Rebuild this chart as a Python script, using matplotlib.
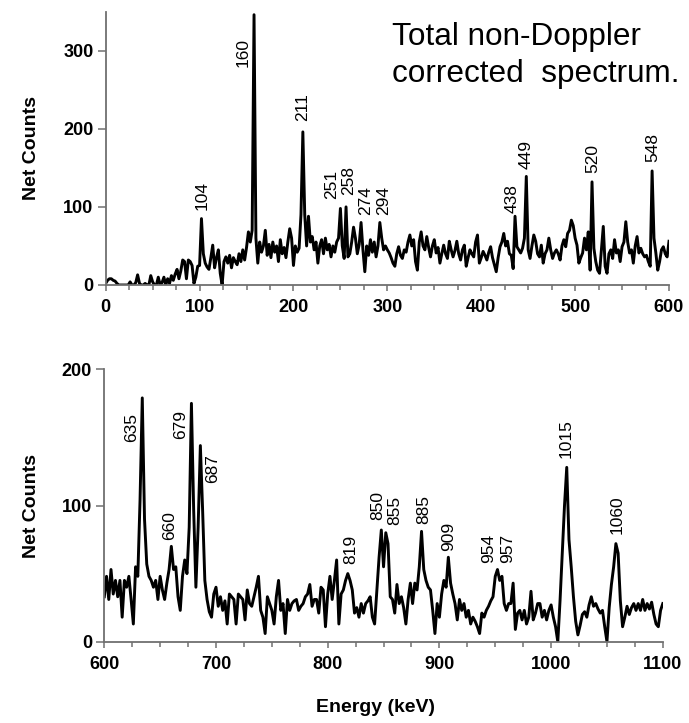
import numpy as np
import matplotlib
matplotlib.use("Agg")
import matplotlib.pyplot as plt
from matplotlib.ticker import MultipleLocator

# ---------------- data ----------------
top_energy = np.arange(0, 601, 2)          # keV
top_counts = [
    2, 6, 8, 8, 6,      5, 2, 0, 0, 0,      0, 0, 0, 4, 0,      0, 3, 13, 2, 0,
    0, 2, 0, 0, 12,     4, 0, 0, 10, 0,     3, 10, 0, 8, 2,     12, 6, 14, 20, 8,
    18, 32, 30, 8, 32,  30, 25, 2, 10, 24,  25, 85, 40, 28, 23,  20, 35, 51, 22, 35,
    45, 15, 0, 30, 36,  28, 38, 22, 35, 30,  26, 40, 30, 45, 32,  48, 68, 55, 70, 346,
    60, 28, 55, 42, 50,  70, 38, 52, 35, 55,  42, 50, 30, 58, 40,  48, 35, 55, 72, 60,
    25, 50, 42, 47, 90,  196, 90, 50, 88, 55,  62, 45, 55, 28, 50,  58, 40, 60, 45, 52,
    36, 50, 42, 55, 60,  98, 50, 34, 100, 36,  40, 55, 74, 60, 40,  52, 80, 45, 17, 50,
    38, 58, 42, 55, 36,  50, 80, 60, 45, 50,  45, 41, 35, 28, 24,  40, 49, 38, 34, 45,
    42, 55, 64, 50, 58,  30, 19, 55, 68, 50,  45, 62, 48, 36, 50,  58, 41, 48, 28, 40,
    51, 40, 34, 56, 45,  36, 44, 56, 40, 32,  45, 51, 24, 35, 45,  40, 36, 55, 64, 28,
    35, 43, 38, 32, 42,  49, 35, 26, 17, 35,  49, 55, 66, 50, 56,  40, 38, 21, 88, 49,
    45, 41, 47, 60, 139,  45, 34, 50, 64, 56,  40, 36, 51, 28, 40,  45, 60, 45, 34, 41,
    45, 40, 32, 50, 58,  49, 66, 70, 83, 76,  60, 51, 28, 35, 41,  60, 45, 68, 19, 132,
    47, 30, 19, 15, 45,  75, 24, 15, 40, 45,  34, 58, 41, 45, 30,  49, 55, 81, 55, 41,
    45, 28, 50, 62, 41,  47, 40, 36, 38, 30,  24, 146, 60, 41, 19,  30, 45, 49, 40, 36,
    56,
]

bot_energy = np.arange(600, 1101, 2)       # keV
bot_counts = [
    33, 48, 31, 53, 35,  45, 33, 45, 18, 45,  40, 48, 31, 13, 55,  48, 104, 179, 90, 57,
    48, 45, 40, 45, 31,  48, 38, 31, 43, 53,  70, 53, 55, 33, 23,  48, 60, 50, 84, 175,
    97, 40, 84, 144, 97,  45, 31, 22, 18, 35,  40, 26, 33, 23, 30,  13, 35, 33, 31, 13,
    35, 33, 31, 16, 38,  28, 26, 33, 40, 48,  23, 18, 6, 33, 28,  23, 13, 33, 45, 23,
    28, 6, 31, 23, 28,  30, 31, 23, 26, 28,  33, 35, 42, 26, 31,  31, 21, 40, 38, 11,
    35, 48, 31, 45, 60,  13, 35, 38, 45, 50,  45, 38, 21, 25, 18,  28, 21, 28, 30, 33,
    18, 13, 38, 62, 82,  55, 80, 72, 33, 31,  21, 42, 28, 33, 25,  13, 31, 43, 28, 43,
    38, 55, 81, 53, 45,  40, 38, 23, 6, 28,  18, 35, 45, 40, 62,  43, 35, 28, 16, 31,
    23, 28, 18, 23, 13,  18, 15, 11, 6, 21,  18, 23, 26, 30, 33,  48, 53, 45, 48, 28,
    23, 28, 28, 43, 9,  21, 23, 16, 23, 13,  18, 37, 16, 21, 28,  28, 18, 23, 16, 23,
    27, 18, 11, 0, 30,  65, 100, 128, 75, 55,  33, 15, 5, 12, 20,  22, 18, 27, 33, 26,
    28, 24, 21, 23, 11,  0, 25, 42, 55, 72,  65, 30, 11, 18, 26,  20, 25, 28, 23, 28,
    23, 31, 23, 28, 24,  29, 20, 13, 11, 23,  28,
]

# peak labels: text, energy of the labelled peak (keV)
top_labels = ["104", "160", "211", "251", "258", "274", "294", "438", "449", "520", "548"]
top_label_peaks = [102, 158, 210, 250, 256, 272, 292, 436, 448, 518, 582]
bot_labels = ["635", "660", "679", "687", "819", "850", "855", "885", "909",
              "954", "957", "1015", "1060"]
bot_label_peaks = [634, 660, 678, 686, 818, 848, 852, 884, 908, 952, 956, 1014, 1058]

# label placement offsets (pixels) relative to the peak top
top_offsets = [(1, 9), (-11, -52), (0, 11), (-9, 9), (2.5, 12), (5, 8), (4, 8),
               (-3, 3), (0, 7), (1, 9), (1, 9)]
bot_offsets = [(-10.5, -44), (-1.5, 6.5), (-11, -36), (12.5, -37.5), (3, 9.5),
               (-3.7, 10), (9.4, 7.7), (2, 7.5), (0, 6.6), (-8.7, 6.8), (5.8, 13.6),
               (-0.7, 9), (1.3, 10)]

# ---------------- style ----------------
plt.rcParams['font.family'] = ['Liberation Sans', 'DejaVu Sans']
SPINE = '#707070'

fig = plt.figure(figsize=(6.89, 7.23), dpi=100)
ax1 = fig.add_axes([105.7 / 689, 1 - 285 / 723, (669 - 105.7) / 689, 273.4 / 723])
ax2 = fig.add_axes([104.3 / 689, 1 - 641.7 / 723, (662.8 - 104.3) / 689, 272.4 / 723])


def style(ax, xlim, ylim, ystep, label_x):
    ax.set_xlim(*xlim)
    ax.set_ylim(*ylim)
    for s in ('top', 'right'):
        ax.spines[s].set_visible(False)
    for s in ('left', 'bottom'):
        ax.spines[s].set_color(SPINE)
        ax.spines[s].set_linewidth(1.3)
    ax.xaxis.set_major_locator(MultipleLocator(100))
    ax.xaxis.set_minor_locator(MultipleLocator(25))
    ax.yaxis.set_major_locator(MultipleLocator(ystep))
    ax.tick_params(axis='x', which='major', direction='out', length=4.5, width=1.1,
                   color=SPINE, pad=5.5, labelsize=13)
    ax.tick_params(axis='x', which='minor', direction='out', length=3.4, width=1.1,
                   color=SPINE)
    ax.tick_params(axis='y', which='major', direction='out', length=5.8, width=1.1,
                   color=SPINE, pad=3, labelsize=13)
    for lab in ax.get_xticklabels() + ax.get_yticklabels():
        lab.set_fontweight('bold')
    ax.set_ylabel('Net Counts', fontsize=14, fontweight='bold')
    ax.yaxis.set_label_coords(label_x, 0.5)
    ax.patch.set_visible(False)


def draw(ax, energy, counts, labels, peaks, offsets):
    counts = np.asarray(counts, dtype=float)
    ax.plot(energy, counts, color='black', lw=2.1, solid_joinstyle='round')
    for text, e, (dx, dy) in zip(labels, peaks, offsets):
        i = int(np.argmin(np.abs(energy - e)))
        ax.annotate(text, xy=(energy[i], counts[i]), xytext=(dx, dy),
                    textcoords='offset pixels', rotation=90, ha='center',
                    va='bottom', fontsize=12.5, color='black')


draw(ax1, top_energy, top_counts, top_labels, top_label_peaks, top_offsets)
style(ax1, (0, 600), (0, 350), 100, -0.117)
draw(ax2, bot_energy, bot_counts, bot_labels, bot_label_peaks, bot_offsets)
style(ax2, (600, 1100), (0, 200), 100, -0.116)

fig.text(376 / 689, 1 - 708 / 723, 'Energy (keV)', ha='center', va='center',
         fontsize=14, fontweight='bold')
fig.text(391.7 / 689, 1 - 45 / 723, 'Total non-Doppler', ha='left', va='baseline',
         fontsize=22.7)
fig.text(391.7 / 689, 1 - 81.7 / 723, 'corrected  spectrum.', ha='left', va='baseline',
         fontsize=22.7)

fig.savefig('out.png', dpi=100, facecolor='white')
